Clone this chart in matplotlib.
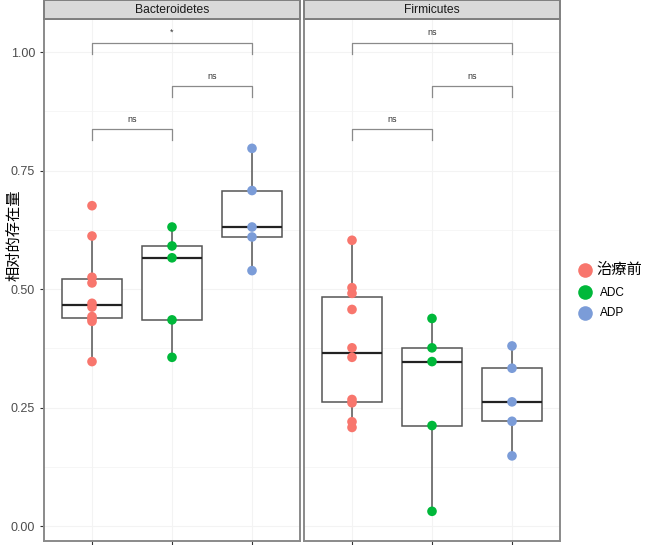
import matplotlib
matplotlib.use("Agg")
import matplotlib.pyplot as plt
import numpy as np
from matplotlib.lines import Line2D
from matplotlib.patches import Rectangle

plt.rcParams['font.family'] = ['Liberation Sans', 'Noto Sans CJK SC', 'DejaVu Sans']

groups = ["治療前", "ADC", "ADP"]
colors = ["#F8766D", "#00B83A", "#7B9CD8"]
panels = ["Bacteroidetes", "Firmicutes"]

bact_pre = [0.676, 0.612, 0.525, 0.513, 0.470, 0.462, 0.442, 0.437, 0.432, 0.347]
bact_adc = [0.631, 0.591, 0.566, 0.435, 0.356]
bact_adp = [0.797, 0.708, 0.631, 0.610, 0.539]
firm_pre = [0.603, 0.503, 0.491, 0.457, 0.376, 0.356, 0.267, 0.260, 0.220, 0.208]
firm_adc = [0.438, 0.376, 0.347, 0.212, 0.031]
firm_adp = [0.380, 0.333, 0.262, 0.221, 0.148]
data = {"Bacteroidetes": [bact_pre, bact_adc, bact_adp],
        "Firmicutes": [firm_pre, firm_adc, firm_adp]}

# significance annotations: (from group, to group, bar y, label)
bact_sig = [(1, 2, 0.837, "ns"), (2, 3, 0.928, "ns"), (1, 3, 1.020, "*")]
firm_sig = [(1, 2, 0.837, "ns"), (2, 3, 0.928, "ns"), (1, 3, 1.020, "ns")]
sigs = {"Bacteroidetes": bact_sig, "Firmicutes": firm_sig}

yticks = [0.00, 0.25, 0.50, 0.75, 1.00]
ytick_labels = ["0.00", "0.25", "0.50", "0.75", "1.00"]

W, H = 650, 545
fig = plt.figure(figsize=(6.5, 5.45), dpi=100)

panel_px = [(44, 300), (304, 560)]
top_px, bot_px, strip_top = 19, 540.5, 0

for i, (name, (x0, x1)) in enumerate(zip(panels, panel_px)):
    ax = fig.add_axes([x0 / W, 1 - bot_px / H, (x1 - x0) / W, (bot_px - top_px) / H])
    ax.set_xlim(0.4, 3.6)
    ax.set_ylim(-0.0306, 1.07)
    # grid
    for yv in np.arange(0, 1.01, 0.125):
        ax.axhline(yv, color="#F3F3F3", lw=0.8 if yv in yticks else 0.5, zorder=0)
    for xv in [1, 2, 3]:
        ax.axvline(xv, color="#F3F3F3", lw=0.8, zorder=0)
    vals = data[name]
    bp = ax.boxplot(vals, positions=[1, 2, 3], widths=0.75, whis=1.5,
                    showfliers=False, patch_artist=True,
                    boxprops=dict(facecolor="white", edgecolor="#555555", lw=1.1),
                    whiskerprops=dict(color="#555555", lw=1.1),
                    capprops=dict(lw=0),
                    medianprops=dict(color="#222222", lw=1.6))
    for g, (v, c) in enumerate(zip(vals, colors)):
        ax.scatter([g + 1] * len(v), v, s=48, color=c, zorder=5, edgecolor="none")
    for (a, b, yb, lab) in sigs[name]:
        ax.plot([a, a, b, b], [yb - 0.023, yb, yb, yb - 0.023], color="#8a8a8a", lw=0.9)
        ax.text((a + b) / 2, yb + 0.012, lab, ha="center", va="bottom", fontsize=6.5, color="#333333")
    for sp in ax.spines.values():
        sp.set_color("#8a8a8a")
        sp.set_linewidth(1.4)
    ax.set_yticks(yticks)
    ax.set_xticks([1, 2, 3])
    ax.set_xticklabels([])
    ax.tick_params(axis="both", color="#333333", length=3, width=0.8)
    if i == 0:
        ax.set_yticklabels(ytick_labels, fontsize=9, color="#4d4d4d")
    else:
        ax.set_yticklabels([])
        ax.tick_params(axis="y", length=0)
    # strip
    fig.add_artist(Rectangle((x0 / W, 1 - top_px / H), (x1 - x0) / W, (top_px - strip_top) / H,
                             transform=fig.transFigure, facecolor="#D9D9D9",
                             edgecolor="#7f7f7f", lw=1.4, clip_on=False))
    fig.text((x0 + x1) / 2 / W, 1 - (top_px / 2 + 0.5) / H, name, ha="center", va="center",
             fontsize=8.7, color="#1a1a1a")

fig.text(14 / W, 1 - 235 / H, "相对的存在量", rotation=90, ha="center", va="center",
         fontsize=11, family=['Noto Sans CJK SC', 'DejaVu Sans'], fontweight="medium")

handles = [Line2D([], [], marker="o", ls="", markersize=10.5, markerfacecolor=c,
                  markeredgecolor="none") for c in colors]
leg = fig.legend(handles, groups, loc="center left", bbox_to_anchor=(573 / W, 1 - 290 / H),
                 frameon=False, handletextpad=0.3, labelspacing=0.8, borderaxespad=0,
                 handlelength=1.4,
                 prop={"family": ['Noto Sans CJK SC', 'DejaVu Sans'], "size": 8})
leg.get_texts()[0].set_fontsize(11)
for t in leg.get_texts()[1:]:
    t.set_fontfamily(['Liberation Sans', 'DejaVu Sans'])
    t.set_fontsize(8.5)
    t.set_x(4)

fig.savefig("out.png", dpi=100)
